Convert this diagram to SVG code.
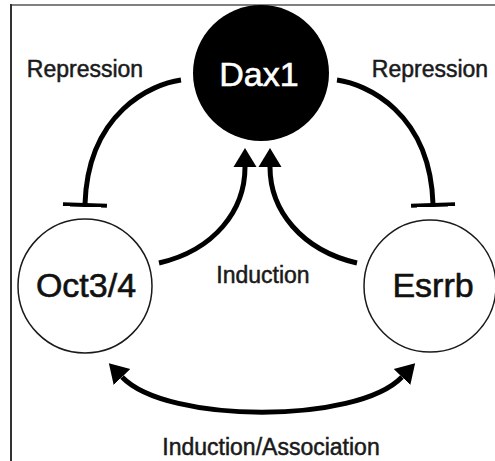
<svg xmlns="http://www.w3.org/2000/svg" width="495" height="461" viewBox="0 0 495 461">
  <style>
    .node { fill: #ffffff; stroke: #1a1a1a; stroke-width: 1.5; }
    .node-dark { fill: #000000; stroke: none; }
    .name { font-family: "Liberation Sans", Arial, sans-serif; font-size: 34px; text-anchor: middle; fill: #111111; stroke: #111111; stroke-width: 0.6; }
    .name-light { fill: #ffffff; stroke: #ffffff; }
    .label { font-family: "Liberation Sans", Arial, sans-serif; font-size: 23px; text-anchor: middle; fill: #1a1a1a; stroke: #1a1a1a; stroke-width: 0.5; }
    .edge { fill: none; stroke: #000000; stroke-width: 5; stroke-linecap: butt; }
  </style>
  <defs>
    <marker id="arrow" markerUnits="userSpaceOnUse" markerWidth="24" markerHeight="26" viewBox="0 -13 24 26" refX="0" refY="0" orient="auto-start-reverse">
      <path d="M0,-11.5 L19,0 L0,11.5 Z" fill="#000000"/>
    </marker>
    <marker id="tee" markerUnits="userSpaceOnUse" markerWidth="6" markerHeight="48" viewBox="-3 -24 6 48" refX="0" refY="0" orient="auto">
      <rect x="-1" y="-22" width="4" height="44" fill="#000000"/>
    </marker>
  </defs>

  <rect width="495" height="461" fill="#ffffff"/>
  <!-- frame -->
  <line x1="10" y1="5" x2="495" y2="5" stroke="#808080" stroke-width="2"/>
  <line x1="11" y1="4" x2="11" y2="461" stroke="#333333" stroke-width="2"/>

  <g id="connectors">
    <!-- repression: Dax1 -| Oct3/4 -->
    <path class="edge" d="M181,80 C152,84 88,112 85,204" marker-end="url(#tee)"/>
    <!-- repression: Dax1 -| Esrrb -->
    <path class="edge" d="M337,80 C366,84 430,112 433,204" marker-end="url(#tee)"/>
    <!-- induction: Oct3/4 -> Dax1 -->
    <path class="edge" d="M159,263 C215,250 245,210 245,167" marker-end="url(#arrow)"/>
    <!-- induction: Esrrb -> Dax1 -->
    <path class="edge" d="M357,263 C301,250 270,210 270,167" marker-end="url(#arrow)"/>
    <!-- induction/association between Oct3/4 and Esrrb -->
    <path class="edge" d="M122,377 C167,424 357,424 402,377" marker-start="url(#arrow)" marker-end="url(#arrow)"/>
  </g>

  <g id="dax1">
    <circle class="node-dark" cx="261" cy="73" r="68"/>
    <text class="name name-light" x="259" y="86">Dax1</text>
  </g>
  <g id="oct34">
    <circle class="node" cx="85" cy="286" r="67"/>
    <text class="name" x="86" y="297">Oct3/4</text>
  </g>
  <g id="esrrb">
    <circle class="node" cx="430" cy="286" r="66"/>
    <text class="name" x="433" y="297">Esrrb</text>
  </g>

  <g id="labels">
    <text class="label" x="85" y="77">Repression</text>
    <text class="label" x="430" y="77">Repression</text>
    <text class="label" x="263" y="283">Induction</text>
    <text class="label" x="271" y="455">Induction/Association</text>
  </g>
</svg>
